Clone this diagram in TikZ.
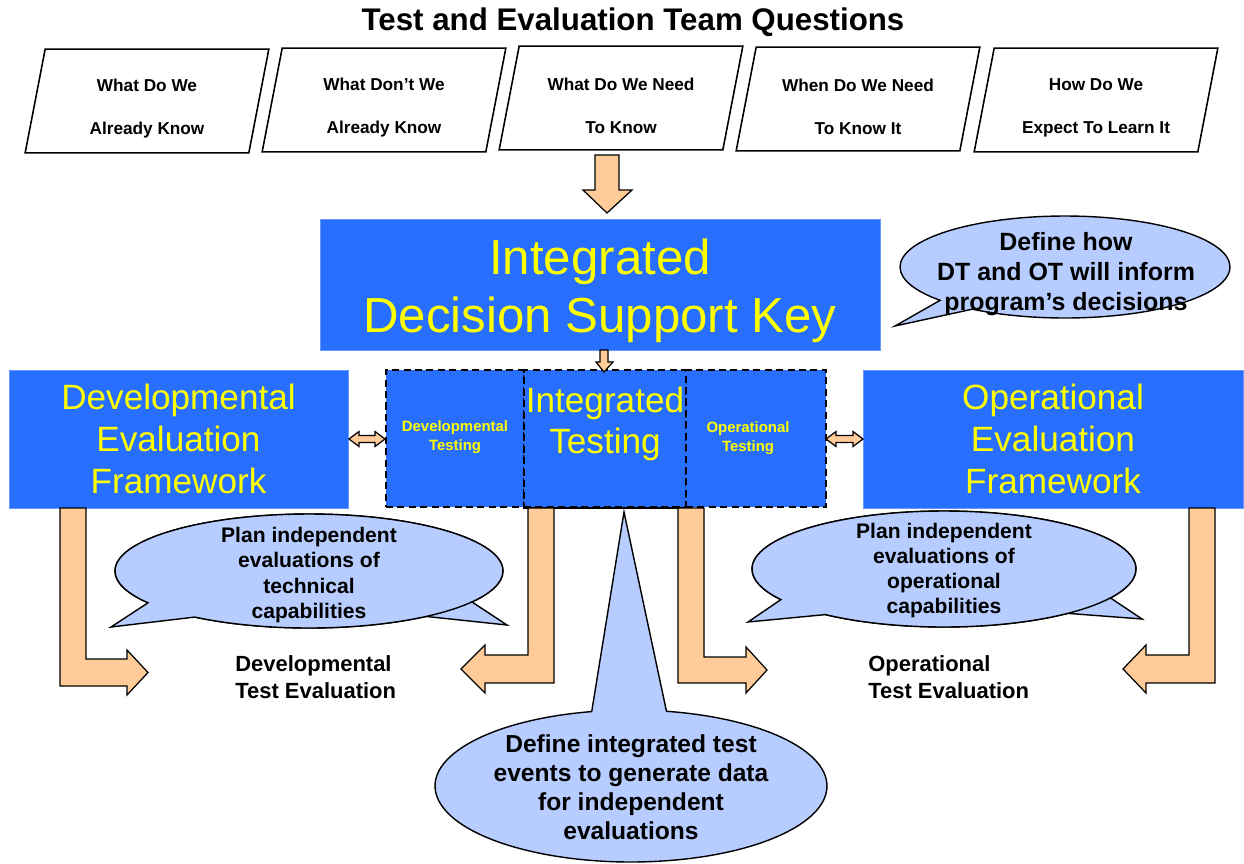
\documentclass[tikz,border=0pt]{standalone}
\usepackage{fontspec}
\setmainfont{Liberation Sans}
\usepackage{xcolor}
\usepackage{tikz}
\usetikzlibrary{shapes.callouts}

\definecolor{keyblue}{RGB}{40,110,255}
\definecolor{bubbleblue}{RGB}{183,205,255}
\definecolor{arroworange}{RGB}{255,204,153}
\definecolor{keyyellow}{RGB}{255,255,0}

\begin{document}
\begin{tikzpicture}[
        x=0.02cm, y=-0.02cm,
        question/.style={rectangle, minimum width=4.86cm, minimum height=2.06cm, inner sep=0pt, align=center,
            font=\bfseries\fontsize{9.8}{24.5}\selectfont},
        keybox/.style={rectangle, fill=keyblue, draw=keyblue!70!white, text=keyyellow, align=center, inner sep=0pt},
        keytext/.style={text=keyyellow, align=center, inner sep=0pt},
        testbox/.style={rectangle, fill=keyblue, draw, line width=0.9pt, dash pattern=on 4pt off 2.5pt,
            text=keyyellow, align=center, inner sep=0pt},
        smalltext/.style={keytext, font=\bfseries\fontsize{8.5}{11}\selectfont},
        blockarrow/.style={fill=arroworange, draw, line width=0.7pt, line join=miter},
        bubble/.style={ellipse callout, fill=bubbleblue, draw, line width=0.8pt, inner sep=0pt, callout pointer arc=20},
        bubbletext/.style={align=center, font=\bfseries\fontsize{12}{14.3}\selectfont},
        outcome/.style={align=left, anchor=west, inner sep=0pt, font=\bfseries\fontsize{12.5}{15.5}\selectfont}
    ]
    \useasboundingbox (0,0) rectangle (1244,863);

    % Questions row (text sits a little below the middle of each box)
    \node[font=\bfseries\fontsize{17.8}{20}\selectfont] (title) at (633,22) {Test and Evaluation Team Questions};
    \node[question] (q1) at (147,109) {What Do We\\Already Know};
    \node[question] (q2) at (384,108) {What Don’t We\\Already Know};
    \node[question] (q3) at (621,106) {What Do We Need\\To Know};
    \node[question] (q4) at (858,107) {When Do We Need\\To Know It};
    \node[question] (q5) at (1096,108) {How Do We\\Expect To Learn It};
    \foreach \q in {q1,q2,q3,q4,q5}
        \draw[line width=0.9pt] ([xshift=0.4cm,yshift=0.16cm]\q.north west) -- ([yshift=0.16cm]\q.north east)
            -- ([xshift=-0.4cm,yshift=0.16cm]\q.south east) -- ([yshift=0.16cm]\q.south west) -- cycle;

    % Decision support key
    \node[keybox, minimum width=11.2cm, minimum height=2.62cm] (idsk) at (600,284.5) {};
    \node[keytext, font=\fontsize{28}{33}\selectfont] (idsktext) at (600,291) {Integrated\\Decision Support Key};
    \node[bubble, minimum width=6.6cm, minimum height=2.04cm, callout pointer arc=15,
        callout absolute pointer={(895,326)}] (keybubble) at (1065,267) {};
    \node[bubbletext, font=\bfseries\fontsize{14.2}{17}\selectfont] (keybubbletext) at (1066,274)
        {Define how\\DT and OT will inform\\program’s decisions};

    % Frameworks and testing
    \node[keybox, minimum width=6.78cm, minimum height=2.76cm, font=\fontsize{20}{24}\selectfont]
        (def) at (178.5,439) {Developmental\\Evaluation\\Framework};
    \node[keybox, minimum width=7.6cm, minimum height=2.76cm, font=\fontsize{20}{24}\selectfont]
        (oef) at (1053,439) {Operational\\Evaluation\\Framework};
    \node[testbox, minimum width=2.76cm, minimum height=2.74cm] (dt) at (455,438.5) {};
    \node[testbox, minimum width=3.24cm, minimum height=2.74cm] (it) at (605,438.5) {};
    \node[testbox, minimum width=2.8cm, minimum height=2.74cm] (ot) at (756,438.5) {};
    \draw[line width=0.9pt] (it.south west) -- (it.south east);
    \node[smalltext] (dttext) at (455,437) {Developmental\\Testing};
    \node[keytext, font=\fontsize{20}{23.5}\selectfont] (ittext) at (605,424) {Integrated\\Testing};
    \node[smalltext] (ottext) at (748,438) {Operational\\Testing};

    % Block arrows
    \draw[blockarrow] (595,155) -- (619,155) -- (619,190) -- (632,190) -- (607,213) -- (583,190) -- (595,190) -- cycle;
    \draw[blockarrow] (600,350) -- (608,350) -- (608,362) -- (613,362) -- (604,372) -- (596,362) -- (600,362) -- cycle;
    \draw[blockarrow] (349,439) -- (359,431.5) -- (359,435.5) -- (375,435.5) -- (375,431.5) -- (385,439)
        -- (375,446.5) -- (375,442.5) -- (359,442.5) -- (359,446.5) -- cycle;
    \draw[blockarrow] (826,439) -- (836,431.5) -- (836,435.5) -- (853,435.5) -- (853,431.5) -- (863,439)
        -- (853,446.5) -- (853,442.5) -- (836,442.5) -- (836,446.5) -- cycle;
    \draw[blockarrow] (60,508) -- (86,508) -- (86,659) -- (127,659) -- (127,650) -- (148,672.5)
        -- (127,695) -- (127,686) -- (60,686) -- cycle;
    \draw[blockarrow] (554,508) -- (554,683) -- (485,683) -- (485,693) -- (461,669) -- (485,645)
        -- (485,655) -- (528,655) -- (528,508) -- cycle;
    \draw[blockarrow] (678,508) -- (704,508) -- (704,657) -- (746,657) -- (746,647) -- (767,670)
        -- (746,693) -- (746,683) -- (678,683) -- cycle;
    \draw[blockarrow] (1215,508) -- (1215,683) -- (1146,683) -- (1146,693) -- (1123,669) -- (1146,645)
        -- (1146,655) -- (1189,655) -- (1189,508) -- cycle;

    % Callouts
    \node[bubble, minimum width=7.76cm, minimum height=2.28cm, callout absolute pointer={(507,625)}] (techback) at (309,571) {};
    \node[bubble, minimum width=7.76cm, minimum height=2.28cm, callout absolute pointer={(111,627)}] (techbubble) at (309,571) {};
    \node[bubbletext] (techtext) at (309,575) {Plan independent\\evaluations of\\technical\\capabilities};

    \node[bubble, minimum width=7.68cm, minimum height=2.32cm, callout absolute pointer={(1142,619)}] (opback) at (944,569) {};
    \node[bubble, minimum width=7.68cm, minimum height=2.32cm, callout absolute pointer={(748,622)}] (opbubble) at (944,569) {};
    \node[bubbletext] (optext) at (944,570.5) {Plan independent\\evaluations of\\operational\\capabilities};

    \node[bubble, minimum width=7.84cm, minimum height=3.04cm, callout pointer arc=22,
        callout absolute pointer={(624,512)}] (itbubble) at (631,786) {};
    \node[bubbletext, font=\bfseries\fontsize{14}{16.5}\selectfont] (itbubbletext) at (631,787.5)
        {Define integrated test\\events to generate data\\for independent\\evaluations};

    % Outcomes
    \node[outcome] (dte) at (235,677.5) {Developmental\\Test Evaluation};
    \node[outcome] (ote) at (868,677.5) {Operational\\Test Evaluation};
\end{tikzpicture}
\end{document}
